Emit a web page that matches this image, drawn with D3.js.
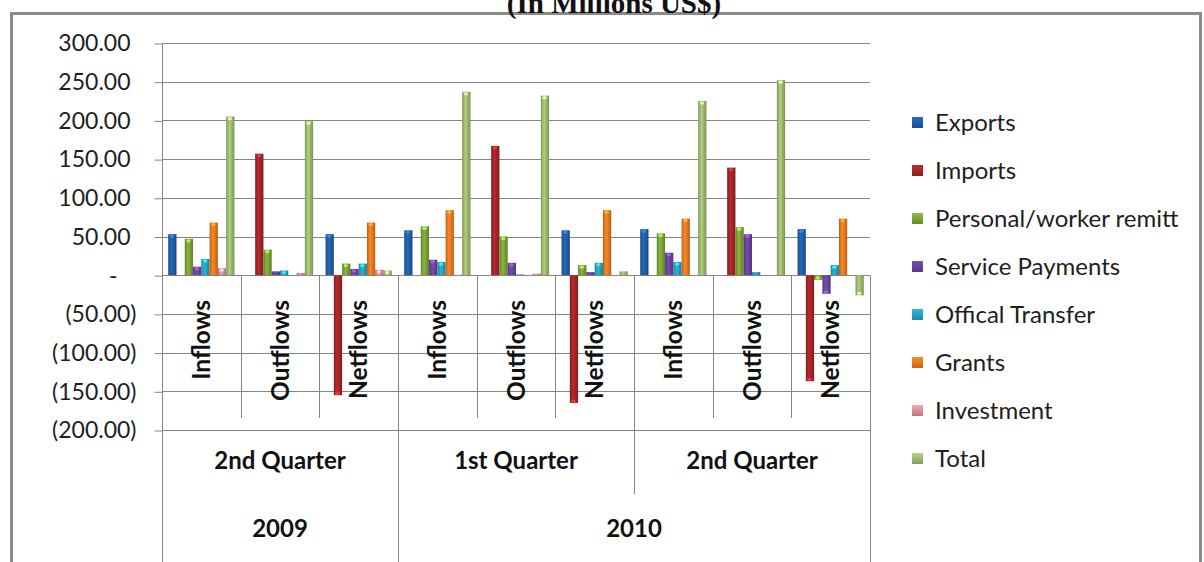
<!DOCTYPE html>
<html>
<head>
<meta charset="utf-8">
<script src="https://cdn.jsdelivr.net/npm/d3@7/dist/d3.min.js"></script>
<style>
  html, body { margin: 0; padding: 0; background: #fff; }
  svg { display: block; }
</style>
</head>
<body>
<svg id="chart" width="1204" height="562"></svg>
<script>
// Category tiers: flow type, quarter, year
const flows = ["Inflows", "Outflows", "Netflows", "Inflows", "Outflows", "Netflows", "Inflows", "Outflows", "Netflows"];
const quarters = ["2nd Quarter", "1st Quarter", "2nd Quarter"];
const years = ["2009", "2010"];
const yearQuarterCounts = [1, 2];

// Series (in millions US$), one value per category
const seriesNames = ["Exports", "Imports", "Personal/worker remitt", "Service Payments", "Offical Transfer", "Grants", "Investment", "Total"];
const exportsVals    = [53, 0, 53, 58, 0, 58, 59.5, 0, 59.5];
const importsVals    = [0, 157, -155, 0, 167, -165, 0, 139, -137];
const personalVals   = [47, 33, 15, 63, 50, 13, 54, 62, -6];
const serviceVals    = [11, 5, 8, 20, 16, 4, 29, 53, -24];
const officialVals   = [21, 6, 15, 17, 1, 16, 17, 4, 13];
const grantsVals     = [68, 0, 68, 84, 0, 84, 73, 0, 73];
const investmentVals = [9, 3, 7, 0.5, 2, 0, 0, 0, 0];
const totalVals      = [205, 199, 6, 237, 232, 5, 225, 252, -26];
const yTicks = [300, 250, 200, 150, 100, 50, 0, -50, -100, -150, -200];

const seriesValues = [exportsVals, importsVals, personalVals, serviceVals, officialVals, grantsVals, investmentVals, totalVals];
const seriesColors = ["#215ea8", "#a52628", "#7ca338", "#6a449e", "#26a2c3", "#e87a20", "#d8919a", "#9dbb70"];

const svg = d3.select("#chart");
const defs = svg.append("defs");
const FONT = "Lato, 'Open Sans', sans-serif";

// Outer frame
svg.append("rect")
  .attr("x", 11.5).attr("y", 13.5).attr("width", 1189).attr("height", 560)
  .attr("fill", "none").attr("stroke", "#8a8a8a").attr("stroke-width", 3);

// Title, sitting just above the frame
svg.append("text")
  .attr("x", 614).attr("y", 13)
  .attr("text-anchor", "middle")
  .attr("font-family", "'Liberation Serif', 'Times New Roman', serif")
  .attr("font-weight", "bold").attr("font-size", 29).attr("fill", "#111")
  .text("(In Millions US$)");

const plotLeft = 162, plotRight = 870, plotTop = 43, plotBottom = 430;
const y = d3.scaleLinear().domain([-200, 300]).range([plotBottom, plotTop]);
const x0 = d3.scaleBand().domain(d3.range(flows.length)).range([plotLeft, plotRight]).padding(0);
const x1 = d3.scaleBand().domain(d3.range(seriesNames.length))
  .range([0, x0.bandwidth()]).paddingInner(0).paddingOuter(0.75);

const gridColor = "#858585";

// Horizontal gridlines
svg.append("g").selectAll("line").data(yTicks).join("line")
  .attr("x1", plotLeft).attr("x2", plotRight)
  .attr("y1", d => Math.round(y(d)) + 0.5).attr("y2", d => Math.round(y(d)) + 0.5)
  .attr("stroke", gridColor).attr("stroke-width", 1);

// Value axis (accounting style: zero as a dash, negatives in parentheses)
const fmt = d3.format(",.2f");
const yAxis = d3.axisLeft(y).tickValues(yTicks).tickSize(8).tickPadding(0)
  .tickFormat(d => d === 0 ? "-" : d < 0 ? "(" + fmt(-d) + ")" : fmt(d));
const yAxisG = svg.append("g")
  .attr("transform", `translate(${plotLeft + 0.5},0.5)`)
  .call(yAxis);
yAxisG.select(".domain").remove();
yAxisG.selectAll(".tick line").attr("stroke", gridColor);
yAxisG.selectAll(".tick text")
  .attr("font-family", FONT).attr("font-size", 23).attr("fill", "#1e1e1e")
  .attr("x", d => d < 0 ? -26 : d === 0 ? -45 : -32);

// Vertical axis line down through the category tiers
svg.append("line")
  .attr("x1", plotLeft + 0.5).attr("x2", plotLeft + 0.5)
  .attr("y1", plotTop).attr("y2", 562)
  .attr("stroke", gridColor);

// Category tier dividers
const zeroY = Math.round(y(0)) + 0.5;
const quarterBounds = [3, 6];
const innerBounds = d3.range(1, flows.length).filter(i => !quarterBounds.includes(i));
svg.append("g").selectAll("line").data(innerBounds).join("line")
  .attr("x1", i => Math.round(x0(i)) + 0.5).attr("x2", i => Math.round(x0(i)) + 0.5)
  .attr("y1", zeroY).attr("y2", 418)
  .attr("stroke", gridColor);
// quarter divider inside 2010 stops above the year row; the year divider runs to the bottom
svg.append("line")
  .attr("x1", Math.round(x0(6)) + 0.5).attr("x2", Math.round(x0(6)) + 0.5)
  .attr("y1", zeroY).attr("y2", 494).attr("stroke", gridColor);
svg.append("line")
  .attr("x1", Math.round(x0(3)) + 0.5).attr("x2", Math.round(x0(3)) + 0.5)
  .attr("y1", zeroY).attr("y2", 562).attr("stroke", gridColor);
svg.append("line")
  .attr("x1", plotRight + 0.5).attr("x2", plotRight + 0.5)
  .attr("y1", zeroY).attr("y2", 562).attr("stroke", gridColor);

// Bar gradients (rounded cylinder shading)
seriesColors.forEach((c, i) => {
  const g = defs.append("linearGradient").attr("id", "bar" + i)
    .attr("x1", 0).attr("x2", 1).attr("y1", 0).attr("y2", 0);
  const base = d3.color(c);
  g.append("stop").attr("offset", "0%").attr("stop-color", base.darker(0.6));
  g.append("stop").attr("offset", "40%").attr("stop-color", base.brighter(0.3));
  g.append("stop").attr("offset", "100%").attr("stop-color", base.darker(0.7));
  const lg = defs.append("linearGradient").attr("id", "leg" + i)
    .attr("x1", 0).attr("x2", 0).attr("y1", 0).attr("y2", 1);
  lg.append("stop").attr("offset", "0%").attr("stop-color", base.brighter(0.4));
  lg.append("stop").attr("offset", "100%").attr("stop-color", base.darker(0.5));
});

// Bars
const barData = [];
seriesValues.forEach((vals, s) => vals.forEach((v, c) => barData.push({ s, c, v })));
const barsG = svg.append("g");
barsG.selectAll("rect").data(barData.filter(d => d.v !== 0)).join("rect")
  .attr("x", d => x0(d.c) + x1(d.s))
  .attr("width", x1.bandwidth())
  .attr("y", d => Math.min(y(d.v), y(0)))
  .attr("height", d => Math.abs(y(d.v) - y(0)))
  .attr("fill", d => `url(#bar${d.s})`);
// light cap at the outer end of each bar
barsG.selectAll("ellipse").data(barData.filter(d => Math.abs(y(d.v) - y(0)) > 4)).join("ellipse")
  .attr("cx", d => x0(d.c) + x1(d.s) + x1.bandwidth() * 0.45)
  .attr("cy", d => d.v > 0 ? y(d.v) + 2 : y(d.v) - 2)
  .attr("rx", x1.bandwidth() * 0.28).attr("ry", 1.6)
  .attr("fill", d => d3.color(seriesColors[d.s]).brighter(1.2))
  .attr("opacity", 0.85);

// Tier 1 labels (rotated)
svg.append("g").selectAll("text").data(flows).join("text")
  .attr("transform", (d, i) => `translate(${x0(i) + x0.bandwidth() / 2},300) rotate(-90)`)
  .attr("text-anchor", "end").attr("dy", "0.36em")
  .attr("font-family", FONT).attr("font-weight", "bold").attr("font-size", 24.5).attr("fill", "#111")
  .text(d => d);

// Tier 2 labels (quarters)
svg.append("g").selectAll("text").data(quarters).join("text")
  .attr("x", (d, i) => x0(i * 3) + x0.bandwidth() * 1.5)
  .attr("y", 461).attr("dy", "0.35em").attr("text-anchor", "middle")
  .attr("font-family", FONT).attr("font-weight", "bold").attr("font-size", 24).attr("fill", "#111")
  .text(d => d);

// Tier 3 labels (years)
let startQ = 0;
const yearPos = years.map((yr, i) => {
  const a = x0(startQ * 3), b = x0((startQ + yearQuarterCounts[i]) * 3 - 1) + x0.bandwidth();
  startQ += yearQuarterCounts[i];
  return (a + b) / 2;
});
svg.append("g").selectAll("text").data(years).join("text")
  .attr("x", (d, i) => yearPos[i]).attr("y", 529).attr("dy", "0.35em").attr("text-anchor", "middle")
  .attr("font-family", FONT).attr("font-weight", "bold").attr("font-size", 24).attr("fill", "#111")
  .text(d => d);

// Legend
const legend = svg.append("g").attr("transform", "translate(912,123)");
const legItems = legend.selectAll("g").data(seriesNames).join("g")
  .attr("transform", (d, i) => `translate(0,${i * 48})`);
legItems.append("rect").attr("x", 0).attr("y", -6).attr("width", 11).attr("height", 11)
  .attr("fill", (d, i) => `url(#leg${i})`);
legItems.append("text").attr("x", 23).attr("y", 0).attr("dy", "0.35em")
  .attr("font-family", FONT).attr("font-size", 24).attr("fill", "#1e1e1e")
  .text(d => d);
</script>
</body>
</html>
